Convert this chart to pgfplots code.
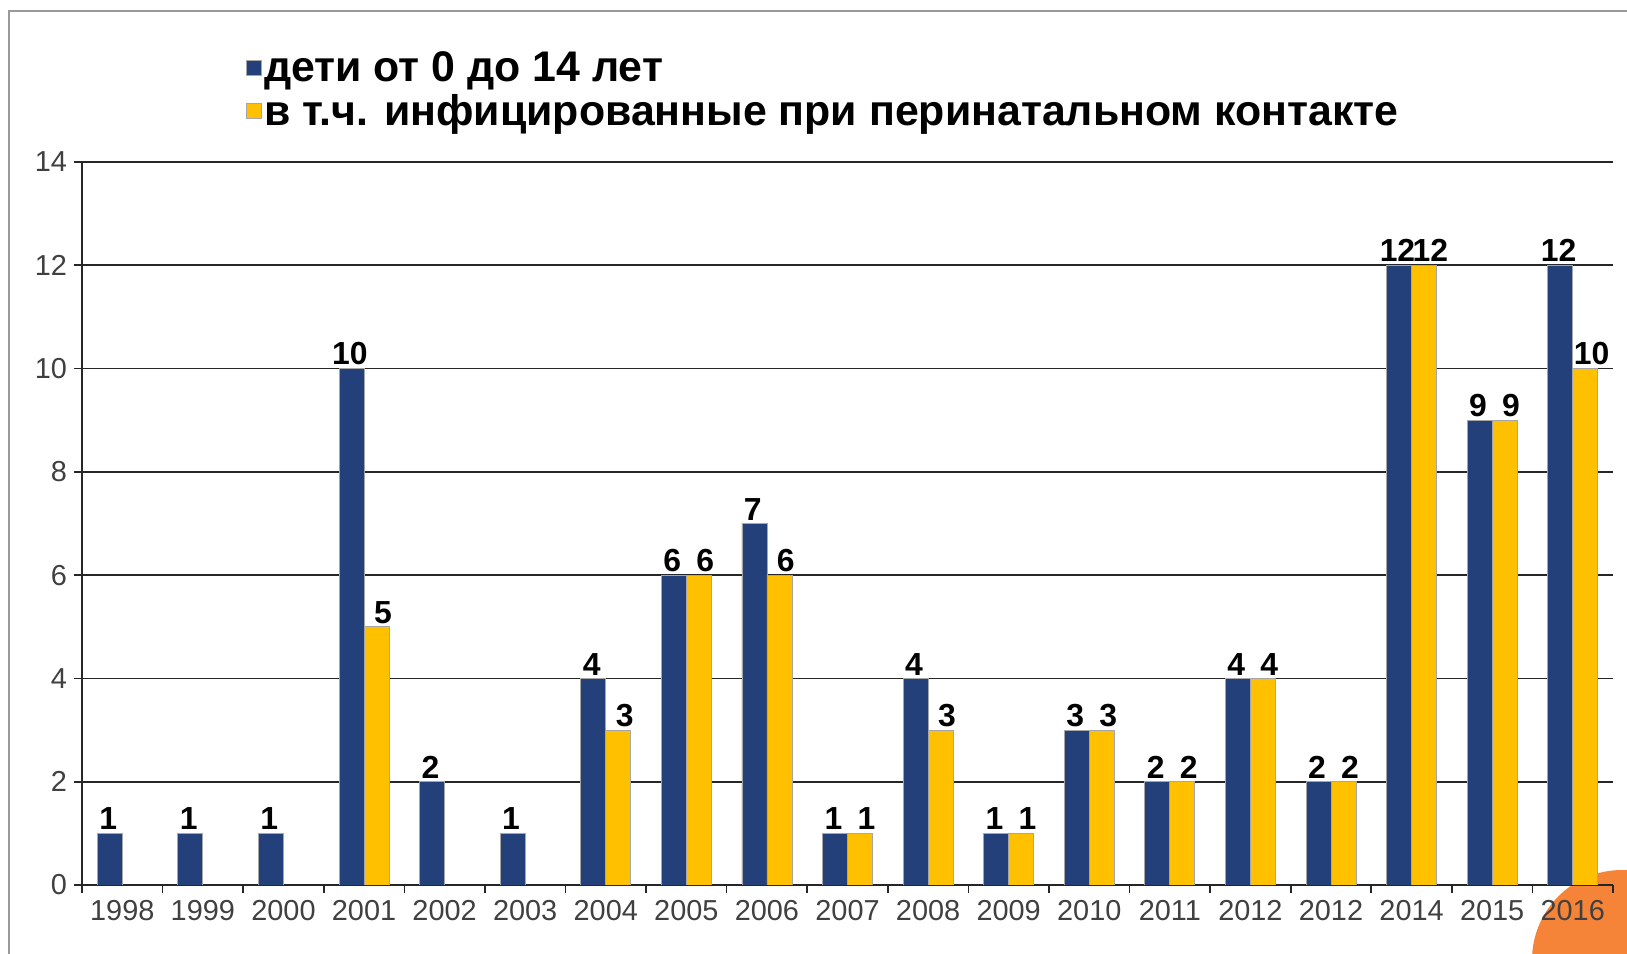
\documentclass[border=0pt]{standalone}
\usepackage{pgfplots}
\pgfplotsset{compat=1.18}
\usepackage{fontspec}
\setmainfont{Liberation Sans}
\definecolor{navy}{RGB}{36,64,122}
\definecolor{gold}{RGB}{255,192,0}
\definecolor{orng}{RGB}{245,132,56}
\pgfplotsset{sqlegend/.style={legend image code/.code={\draw[##1] (0bp,-3.8bp) rectangle (7.6bp,3.8bp);}}}
\begin{document}
\begin{tikzpicture}[x=1bp,y=1bp]
\useasboundingbox (0,0) rectangle (813.5,477);
\fill[white] (0,0) rectangle (813.5,477);
\draw[gray!80, line width=1.4bp] (4.5,-5) -- (4.5,471.5) -- (830,471.5);
\fill[orng] (811,-3) circle (45);
\begin{axis}[
  at={(41bp,34.5bp)}, anchor=south west,
  scale only axis, width=765.5bp, height=361.5bp,
  xmin=-0.5, xmax=18.5, ymin=0, ymax=14,
  /pgf/number format/assume math mode=true,
  ytick={0,2,...,14},
  ymajorgrids, grid style={black!85, line width=0.9bp},
  axis lines*=left, axis line style={black!85, line width=0.9bp},
  tick align=outside, major tick length=4bp,
  tick style={black!85, line width=0.8bp},
  xtick={-0.5,0.5,...,18.5},
  x tick label as interval,
  xticklabels={1998,1999,2000,2001,2002,2003,2004,2005,2006,2007,2008,2009,2010,2011,2012,2012,2014,2015,2016},
  tick label style={font=\fontsize{14.5}{14.5}\selectfont, text=black!75},
  ybar=0pt, bar width=0.31,
  nodes near coords,
  every node near coord/.append style={font=\bfseries\fontsize{16}{16}\selectfont, text=black, anchor=south, inner sep=1.5bp},
  legend style={draw=none, fill=none, at={(0.103,1.162)}, anchor=north west,
    font=\bfseries\fontsize{21.5}{22}\selectfont, row sep=3bp,
    nodes={inner sep=1bp}},
  legend cell align=left,
]
\addplot[fill=navy, draw=black!35, line width=0.4bp, sqlegend,
  every node near coord/.append style={xshift=-0.8bp}]
  coordinates {(0,1)(1,1)(2,1)(3,10)(4,2)(5,1)(6,4)(7,6)(8,7)(9,1)(10,4)(11,1)(12,3)(13,2)(14,4)(15,2)(16,12)(17,9)(18,12)};
\addlegendentry{дети от 0 до 14 лет}
\addplot[fill=gold, draw=black!35, line width=0.4bp, sqlegend,
  every node near coord/.append style={xshift=3.2bp}]
  coordinates {(3,5)(6,3)(7,6)(8,6)(9,1)(10,3)(11,1)(12,3)(13,2)(14,4)(15,2)(16,12)(17,9)(18,10)};
\addlegendentry{в т.ч. инфицированные при перинатальном контакте}
\end{axis}
\end{tikzpicture}
\end{document}
